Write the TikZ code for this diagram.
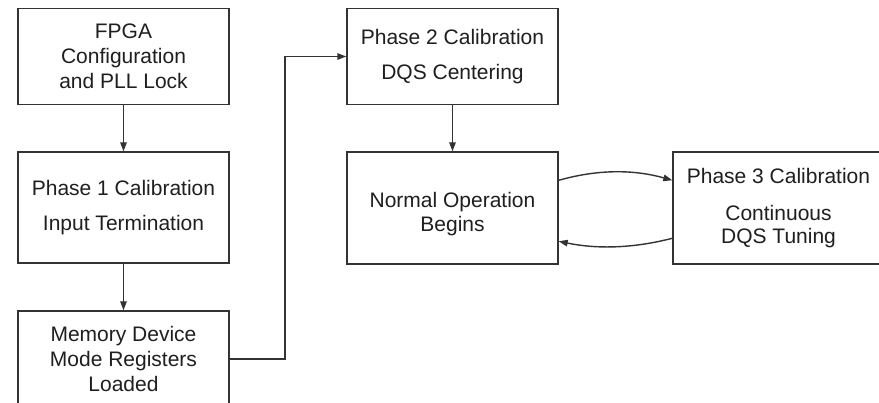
\documentclass[tikz,border=0pt]{standalone}
\usepackage{fontspec}
\setmainfont{Liberation Sans}
\usetikzlibrary{arrows.meta,calc}
\begin{document}
\begin{tikzpicture}[x=1pt,y=-1pt,
  box/.style={draw=black!80, line width=1.4pt, fill=white, inner sep=0pt,
    minimum width=211pt, align=center, text=black!88,
    font=\fontsize{21}{25}\selectfont},
  txt/.style={inner sep=0pt, align=center, text=black!88,
    font=\fontsize{21}{25}\selectfont},
  arr/.style={draw=black!80, line width=1.4pt, -{Triangle[length=9pt,width=6.5pt]}}
]
\useasboundingbox (0,0) rectangle (879,403);
\clip (0,0) rectangle (879,403);
\node[box, minimum height=96pt]  (n1) at (123.5,56.5) {FPGA\\Configuration\\and PLL Lock};
\node[box, minimum height=111pt] (n2) at (123.5,207.5) {Phase 1 Calibration\\[10pt]Input Termination};
\node[box, minimum height=96pt]  (n3) at (123.5,359) {Memory Device\\Mode Registers\\Loaded};
\node[box, minimum height=96pt]  (n4) at (452.5,56.5) {Phase 2 Calibration\\[10pt]DQS Centering};
\node[box, minimum height=112pt] (n5) at (452.5,208) {};
\node[txt] (t5) at (452.5,214) {Normal Operation\\[-1pt]Begins};
\node[box, minimum height=112pt] (n6) at (778.5,208) {Phase 3 Calibration\\[12pt]Continuous\\[-2pt]DQS Tuning};
\coordinate (k) at (285,56.5);
\draw[arr] (n1) -- (n2);
\draw[arr] (n2) -- (n3);
\draw[arr] (n3.east) -| (k) -- (n4.west);
\draw[arr] (n4) -- (n5);
\coordinate (a1) at ($(n5.north east)+(0,29)$);
\coordinate (b1) at ($(n6.north west)+(0,29)$);
\coordinate (a2) at ($(n6.north west)+(0,87)$);
\coordinate (b2) at ($(n5.north east)+(0,90)$);
\draw[arr] (a1) .. controls +(39,-11) and +(-39,-11) .. (b1);
\draw[arr] (a2) .. controls +(-39,10) and +(39,8) .. (b2);
\end{tikzpicture}
\end{document}
